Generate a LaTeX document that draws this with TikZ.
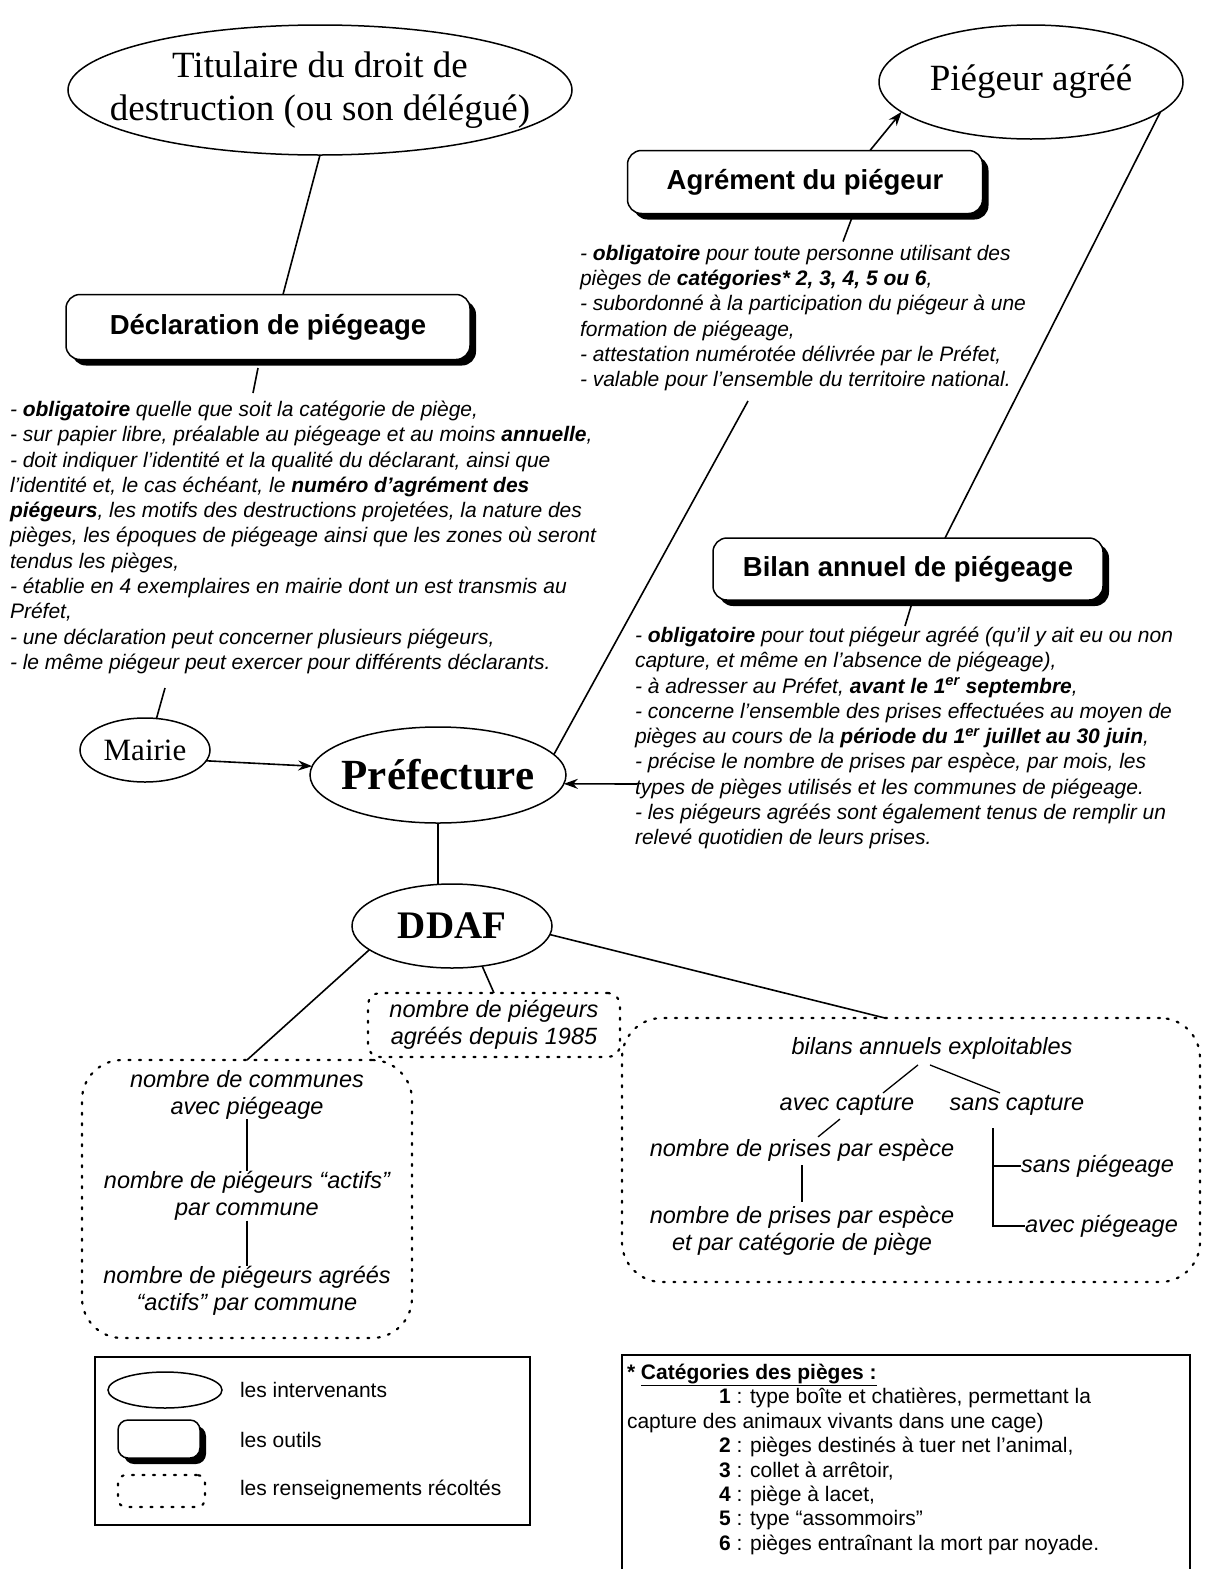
\documentclass[tikz,border=0pt]{standalone}
\usepackage{fontspec}
\setmainfont{Liberation Serif}
\setsansfont{Liberation Sans}
\usetikzlibrary{shapes.geometric,shadows,arrows.meta}

\newcommand\fBody{\fontsize{21}{25.3}\selectfont\sffamily\itshape}
\newcommand\fHead{\fontsize{27.5}{30}\selectfont\sffamily\bfseries}
\newcommand\fBox{\fontsize{23.5}{27}\selectfont\sffamily\itshape}
\newcommand\fCat{\fontsize{21}{24.4}\selectfont\sffamily}
\newcommand\fLeg{\fontsize{21}{25}\selectfont\sffamily}
\newcommand\fTit{\fontsize{37}{43}\selectfont\rmfamily}
\newcommand\fMai{\fontsize{31}{36}\selectfont\rmfamily}
\newcommand\fPref{\fontsize{43}{48}\selectfont\rmfamily\bfseries}
\newcommand\fDdaf{\fontsize{39}{44}\selectfont\rmfamily\bfseries}

\begin{document}
\begin{tikzpicture}[x=1pt,y=-1pt,
  every node/.style={inner sep=0pt, outer sep=0pt},
  ell/.style={draw, ellipse, line width=1.5pt, inner sep=0pt},
  toolbox/.style={draw, fill=white, rounded corners=14pt, line width=1.5pt,
    drop shadow={shadow xshift=6pt, shadow yshift=-6pt, fill=black, opacity=1}},
  infobox/.style={draw, line width=2.2pt, dash pattern=on 2pt off 8.5pt, line cap=round},
  conn/.style={line width=1.6pt},
  thinconn/.style={line width=1.3pt},
  arr/.style={conn, -{Stealth[length=14pt,width=10pt]}},
]
\useasboundingbox[fill=white] (0,0) rectangle (1226,1569);

% ---------- actors (ellipses)
\node[ell, minimum width=504, minimum height=130,
  label={[font=\fTit, align=center]center:Titulaire du droit de\\destruction (ou son délégué)}] (tit) at (320,90) {};
\node[ell, minimum width=304, minimum height=114,
  label={[font=\fTit]center:Piégeur agréé}] (pie) at (1031,82) {};
\node[ell, minimum width=130, minimum height=64,
  label={[font=\fMai]center:Mairie}] (mai) at (145,750) {};
\node[ell, minimum width=256, minimum height=96,
  label={[font=\fPref]center:Préfecture}] (pref) at (438,775) {};
\node[ell, minimum width=200, minimum height=84,
  label={[font=\fDdaf]center:DDAF}] (ddaf) at (452,926) {};

% ---------- tools (shadowed boxes)
\node[toolbox, minimum width=404, minimum height=65, font=\fHead] (decl) at (268,327) {Déclaration de piégeage};
\node[toolbox, minimum width=355, minimum height=63, font=\fHead] (agr) at (805,182) {Agrément du piégeur};
\node[toolbox, minimum width=390, minimum height=62, font=\fHead] (bil) at (908,569) {Bilan annuel de piégeage};

% ---------- text blocks
\node[anchor=north west, align=left, font=\fBody] (decltxt) at (10,401) {%
- \textbf{obligatoire} quelle que soit la catégorie de piège,\\
- sur papier libre, préalable au piégeage et au moins \textbf{annuelle},\\
- doit indiquer l'identité et la qualité du déclarant, ainsi que\\
l'identité et, le cas échéant, le \textbf{numéro d'agrément des}\\
\textbf{piégeurs}, les motifs des destructions projetées, la nature des\\
pièges, les époques de piégeage ainsi que les zones où seront\\
tendus les pièges,\\
- établie en 4 exemplaires en mairie dont un est transmis au\\
Préfet,\\
- une déclaration peut concerner plusieurs piégeurs,\\
- le même piégeur peut exercer pour différents déclarants.};

\node[anchor=north west, align=left, font=\fBody] (agrtxt) at (580,245) {%
- \textbf{obligatoire} pour toute personne utilisant des\\
pièges de \textbf{catégories* 2, 3, 4, 5 ou 6},\\
- subordonné à la participation du piégeur à une\\
formation de piégeage,\\
- attestation numérotée délivrée par le Préfet,\\
- valable pour l'ensemble du territoire national.};

\node[anchor=north west, align=left, font=\fBody] (biltxt) at (635,627) {%
- \textbf{obligatoire} pour tout piégeur agréé (qu'il y ait eu ou non\\
capture, et même en l'absence de piégeage),\\
- à adresser au Préfet, \textbf{avant le 1\textsuperscript{er} septembre},\\
- concerne l'ensemble des prises effectuées au moyen de\\
pièges au cours de la \textbf{période du 1\textsuperscript{er} juillet au 30 juin},\\
- précise le nombre de prises par espèce, par mois, les\\
types de pièges utilisés et les communes de piégeage.\\
- les piégeurs agréés sont également tenus de remplir un\\
relevé quotidien de leurs prises.};

% ---------- connectors (upper part)
\draw[conn] (tit.south) -- ([xshift=15]decl.north);
\draw[conn] ([xshift=-10,yshift=-8.5]decl.south) -- ([xshift=-15,yshift=-33.5]decl.south);
\draw[arr] ([xshift=65]agr.north) -- (pie.193);
\draw[conn] ([xshift=47,yshift=-4]agr.south) -- ([xshift=38,yshift=-28]agr.south);
\draw[conn] (pie.-13) -- ([xshift=37]bil.north);
\draw[conn] ([xshift=4,yshift=-3]bil.south) -- ([xshift=-3,yshift=-26]bil.south);
\coordinate (agrend) at (748,401);
\draw[conn] (agrend) -- (pref.10);
\coordinate (maitop) at (165,688);
\draw[conn] (maitop) -- (mai.70);
\draw[arr] (mai.-10) -- (pref.176);
\coordinate (bilarr) at (637,784);
\draw[arr] (bilarr) -- (pref.-4);
\draw[conn] (pref.south) -- (pref.south |- ddaf.north);

% ---------- collected information (dotted boxes)
\node[infobox, rounded corners=12pt, minimum width=252, minimum height=64,
  align=center, font=\fBox] (midbox) at (494,1025) {nombre de piégeurs\\agréés depuis 1985};
\node[infobox, rounded corners=40pt, minimum width=330, minimum height=278] (lbox) at (247,1199) {};
\node[infobox, rounded corners=40pt, minimum width=578, minimum height=264] (rbox) at (911,1150) {};

\draw[conn] (ddaf.196) -- (lbox.north);
\draw[conn] (ddaf.-53) -- (midbox.north);
\draw[conn] (ddaf.-5) -- ([xshift=-26]rbox.north);

% left box content
\node[font=\fBox, align=center] (lb1) at (247,1095) {nombre de communes\\avec piégeage};
\node[font=\fBox, align=center] (lb2) at (247,1196) {nombre de piégeurs “actifs”\\par commune};
\node[font=\fBox, align=center] (lb3) at (247,1291) {nombre de piégeurs agréés\\“actifs” par commune};
\draw[thinconn] (lb1.south) -- (lb2.north);
\draw[thinconn] (lb2.south) -- (lb3.north);

% right box content
\node[font=\fBox] (rb0) at (932,1048) {bilans annuels exploitables};
\node[font=\fBox] (rb1) at (847,1105) {avec capture};
\node[font=\fBox] (rb2) at (1017,1105) {sans capture};
\node[font=\fBox] (rb3) at (802,1150) {nombre de prises par espèce};
\node[font=\fBox, align=center] (rb4) at (802,1231) {nombre de prises par espèce\\et par catégorie de piège};
\node[font=\fBox, anchor=west] (rb5) at (1021,1166) {sans piégeage};
\node[font=\fBox, anchor=west] (rb6) at (1025,1226) {avec piégeage};
\draw[thinconn] ([xshift=-14,yshift=-6]rb0.south) -- ([xshift=36,yshift=2]rb1.north);
\draw[thinconn] ([xshift=-2,yshift=-6]rb0.south) -- ([xshift=-17,yshift=2]rb2.north);
\draw[thinconn] ([xshift=-7,yshift=-4]rb1.south) -- ([xshift=16,yshift=2]rb3.north);
\draw[thinconn] ([yshift=-4]rb3.south) -- ([yshift=4]rb4.north);
\coordinate (brk) at (993,1128);
\draw[thinconn] (brk) |- (rb6.west);
\draw[thinconn] (brk |- rb5.west) -- (rb5.west);

% ---------- legend
\node[draw, line width=1.1pt, minimum width=435, minimum height=168] (leg) at (312.5,1441) {};
\node[ell, minimum width=114, minimum height=36] (legell) at (165,1390) {};
\node[toolbox, rounded corners=10pt, minimum width=82, minimum height=38] (legtool) at (159,1439) {};
\node[infobox, rounded corners=8pt, minimum width=87, minimum height=32] (leginfo) at (161.5,1491) {};
\node[anchor=west, font=\fLeg] (legt1) at (240,1390) {les intervenants};
\node[anchor=west, font=\fLeg] (legt2) at (240,1440) {les outils};
\node[anchor=west, font=\fLeg] (legt3) at (240,1490) {les renseignements récoltés};

% ---------- categories box
\node[draw, line width=1.2pt, anchor=north west, minimum width=568, minimum height=260] (catbox) at (622,1355) {};
\node[anchor=north west, align=left, font=\fCat] (cattxt) at (627,1364) {%
\textbf{* \underline{Catégories des pièges :}}\\
\hspace*{92pt}\textbf{1} : type boîte et chatières, permettant la\\
capture des animaux vivants dans une cage)\\
\hspace*{92pt}\textbf{2} : pièges destinés à tuer net l'animal,\\
\hspace*{92pt}\textbf{3} : collet à arrêtoir,\\
\hspace*{92pt}\textbf{4} : piège à lacet,\\
\hspace*{92pt}\textbf{5} : type “assommoirs”\\
\hspace*{92pt}\textbf{6} : pièges entraînant la mort par noyade.};
\end{tikzpicture}
\end{document}
